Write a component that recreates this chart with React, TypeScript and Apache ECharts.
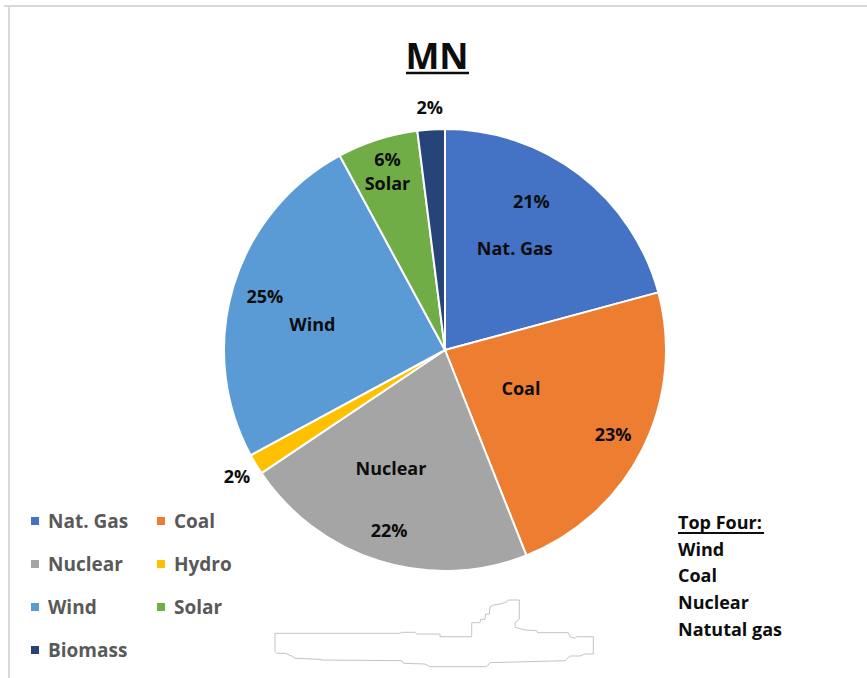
import React, { useEffect, useRef } from "react";
import * as echarts from "echarts";

const categories = ["Nat. Gas", "Coal", "Nuclear", "Hydro", "Wind", "Solar", "Biomass"];
const shares = [20.8, 23.2, 21.6, 1.5, 25.0, 5.9, 2.0];
const sliceColors = ["#4472C4", "#ED7D31", "#A5A5A5", "#FFC000", "#5B9BD5", "#70AD47", "#264478"];
const chartTitle = "MN";
const topFourHeading = "Top Four:";
const topFour = ["Wind", "Coal", "Nuclear", "Natutal gas"];

// label placement groups (layout only)
const pctInsideSet = ["Nat. Gas", "Coal", "Nuclear", "Wind", "Solar"];
const pctOutsideSet = ["Hydro", "Biomass"];
const nameMidSet = ["Nat. Gas", "Nuclear", "Wind"];
const nameInnerSet = ["Coal"];
const combinedSet = ["Solar"];

const FONT = "'Open Sans', 'Liberation Sans', sans-serif";

const outline = [
  [275, 633.3], [400, 633.3], [401.7, 632.3], [415, 632.3], [416.7, 634], [440, 634], [440, 636.7],
  [471.7, 636.7], [471.7, 622.7], [480, 622.7], [480.7, 619.3], [485, 619.3], [485.7, 614], [489.3, 614],
  [490, 606.7], [493.3, 605], [500, 604], [506.7, 602], [508.3, 600], [519.3, 600], [519.3, 619.3],
  [515, 622.7], [515, 627.3], [525, 630], [536.7, 630.7], [537.7, 632.7], [568.3, 632.7], [570, 636.7],
  [575, 638.3], [576.7, 636.7], [593.3, 636.7], [593.3, 654], [585, 654], [580, 656], [570, 656],
  [565, 660.7], [490, 662.7], [486.7, 666.7], [430, 666.7], [425, 664], [403.3, 663.3], [401.7, 660.7],
  [321.7, 660], [320, 659.3], [295, 658.3], [291.7, 656], [285, 653.3], [276.7, 653.3], [275, 651.7],
];

const pct = (v: number) => Math.round(v) + "%";

export default function App() {
  const ref = useRef<HTMLDivElement>(null);
  useEffect(() => {
    if (!ref.current) return;
    const chart = echarts.init(ref.current, null, { renderer: "svg" });
    const center = [445, 350];
    const labelText = {
      color: "#0d0d0d",
      fontFamily: FONT,
      fontWeight: "bold" as const,
      fontSize: 18,
      lineHeight: 24,
    };
    const overlay = (
      radius: any,
      set: string[],
      fmt: (name: string, v: number) => string,
      nudge?: (name: string) => any
    ) => ({
      type: "pie",
      center,
      radius,
      startAngle: 90,
      clockwise: true,
      silent: true,
      avoidLabelOverlap: false,
      labelLine: { show: false },
      label: { position: "inside", ...labelText, formatter: (p: any) => fmt(p.name, p.value) },
      labelLayout: nudge ? (p: any) => nudge(categories[p.dataIndex]) : undefined,
      itemStyle: { color: "rgba(0,0,0,0)", borderWidth: 0 },
      data: categories.map((c, i) => ({
        name: c,
        value: shares[i],
        label: { show: set.includes(c) },
      })),
    });

    chart.setOption({
      animation: false,
      backgroundColor: "#ffffff",
      color: sliceColors,
      legend: {
        data: categories,
        left: 29,
        top: 511,
        width: 260,
        padding: 0,
        orient: "horizontal",
        icon: "rect",
        itemWidth: 10,
        itemHeight: 10,
        itemGap: 23,
        selectedMode: false,
        textStyle: {
          color: "#595959",
          fontFamily: FONT,
          fontWeight: "bold",
          fontSize: 19,
          lineHeight: 20,
          width: 84,
          padding: [0, 0, 0, 3],
        },
      },
      series: [
        {
          type: "pie",
          center,
          radius: 221,
          startAngle: 90,
          clockwise: true,
          silent: true,
          label: { show: false },
          labelLine: { show: false },
          itemStyle: { borderColor: "#ffffff", borderWidth: 2 },
          data: categories.map((c, i) => ({ name: c, value: shares[i], itemStyle: { color: sliceColors[i] } })),
        },
        overlay(
          [150, 220],
          pctInsideSet,
          (n, v) => (combinedSet.includes(n) ? pct(v) + "\n" + n : pct(v)),
          (n) => (n === "Nat. Gas" ? { dx: -28 } : {})
        ),
        overlay([230, 250], pctOutsideSet, (_n, v) => pct(v)),
        overlay([30, 220], nameMidSet, (n) => n, (n) =>
          n === "Nuclear" ? { dx: -16, dy: -4 } : n === "Wind" ? { dx: -10, dy: 10 } : n === "Nat. Gas" ? { dx: -8 } : {}
        ),
        overlay([40, 124], nameInnerSet, (n) => n),
      ],
      graphic: [
        { type: "line", shape: { x1: 4, y1: 6, x2: 867, y2: 6 }, style: { stroke: "#d9d9d9", lineWidth: 2 }, silent: true },
        { type: "line", shape: { x1: 9, y1: 6, x2: 9, y2: 678 }, style: { stroke: "#d9d9d9", lineWidth: 2 }, silent: true },
        {
          type: "text",
          x: 437,
          y: 55,
          style: {
            text: chartTitle,
            fill: "#0d0d0d",
            font: `bold 36px ${FONT}`,
            align: "center",
            verticalAlign: "middle",
          },
        },
        { type: "line", shape: { x1: 406, y1: 73, x2: 469, y2: 73 }, style: { stroke: "#0d0d0d", lineWidth: 2.5 } },
        {
          type: "text",
          x: 678,
          y: 508.5,
          style: {
            text: [topFourHeading, ...topFour].join("\n"),
            fill: "#0d0d0d",
            font: `bold 18px ${FONT}`,
            lineHeight: 26.7,
            align: "left",
            verticalAlign: "top",
          },
        },
        { type: "line", shape: { x1: 678, y1: 533, x2: 764, y2: 533 }, style: { stroke: "#0d0d0d", lineWidth: 2 } },
        {
          type: "polygon",
          shape: { points: outline },
          style: { fill: "#ffffff", stroke: "#c4c4c4", lineWidth: 1 },
          silent: true,
        },
      ],
    });
    return () => chart.dispose();
  }, []);
  return (
    <div
      ref={ref}
      style={{ position: "fixed", left: 0, top: 0, width: 867, height: 678, background: "#fff" }}
    />
  );
}
